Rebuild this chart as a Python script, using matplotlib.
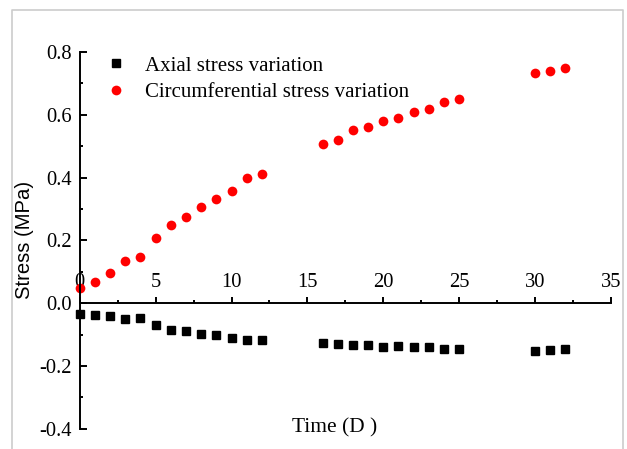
import matplotlib
matplotlib.use('Agg')
import matplotlib.pyplot as plt
from matplotlib.ticker import MultipleLocator, FormatStrFormatter
from matplotlib.lines import Line2D

# Time in days
days_a = [0, 1, 2, 3, 4, 5, 6, 7, 8, 9, 10, 11, 12,
          16, 17, 18, 19, 20, 21, 22, 23, 24, 25, 30, 31, 32]
days_c = days_a

# Axial stress variation (MPa)
axial = [-0.035, -0.036, -0.041, -0.051, -0.047, -0.070, -0.084, -0.088, -0.097,
         -0.102, -0.112, -0.117, -0.118,
         -0.127, -0.129, -0.134, -0.134, -0.138, -0.136, -0.138, -0.139, -0.145, -0.145,
         -0.151, -0.148, -0.146]

# Circumferential stress variation (MPa)
circ = [0.050, 0.068, 0.097, 0.134, 0.146, 0.209, 0.249, 0.274, 0.306, 0.333,
        0.358, 0.399, 0.410,
        0.508, 0.521, 0.550, 0.560, 0.579, 0.590, 0.608, 0.617, 0.641, 0.649,
        0.734, 0.741, 0.748]

serif = 'Liberation Serif'
sans = 'Liberation Sans'

W, H = 627, 449
fig = plt.figure(figsize=(W / 100, H / 100), dpi=100)
fig.patch.set_facecolor('white')

# light grey frame round the picture
frame = Line2D([12 / W, 12 / W, 623 / W, 623 / W], [0, 1 - 10 / H, 1 - 10 / H, 0],
               transform=fig.transFigure, color='#cccccc', lw=1.2)
fig.add_artist(frame)

ax = fig.add_axes([79.7 / W, 1 - 428.8 / H, (611 - 79.7) / W, (428.8 - 52) / H])

ax.plot(days_a, axial, 's', color='black', markersize=5.6, clip_on=False,
        label='Axial stress variation')
ax.plot(days_c, circ, 'o', color='red', markersize=7, clip_on=False,
        markeredgewidth=0, label='Circumferential stress variation')

ax.set_xlim(0, 35)
ax.set_ylim(-0.4, 0.8)

# x axis drawn at y = 0 with labels above it
ax.spines['bottom'].set_visible(False)
ax.spines['right'].set_visible(False)
ax.spines['top'].set_position(('data', 0))
ax.spines['top'].set_linewidth(1.4)
ax.spines['left'].set_linewidth(1.4)
ax.xaxis.set_ticks_position('top')

ax.xaxis.set_major_locator(MultipleLocator(5))
ax.xaxis.set_minor_locator(MultipleLocator(2.5))
ax.yaxis.set_major_locator(MultipleLocator(0.2))
ax.yaxis.set_minor_locator(MultipleLocator(0.1))
ax.yaxis.set_major_formatter(FormatStrFormatter('%.1f'))

ax.tick_params(axis='x', which='major', direction='out', length=4.3, width=1.4, pad=4)
ax.tick_params(axis='x', which='minor', direction='out', length=2.2, width=1.4)
ax.tick_params(axis='y', which='major', direction='in', length=5, width=1.4, pad=5.5)
ax.tick_params(axis='y', which='minor', direction='in', length=2.4, width=1.4)

for lab in ax.get_xticklabels() + ax.get_yticklabels():
    lab.set_fontfamily(serif)
    lab.set_fontsize(14.8)

# axis titles
fig.text(24 / W, 1 - 240 / H, 'Stress (MPa)', rotation=90, ha='center', va='center',
         family=sans, fontsize=14.6)
fig.text(335 / W, 1 - 428 / H, 'Time (D )', ha='center', va='center',
         family=serif, fontsize=15.4)

ax.legend(loc='upper left', bbox_to_anchor=(105.3 / W, 1 - 56 / H),
          bbox_transform=fig.transFigure, frameon=False, borderpad=0,
          handlelength=1.0, handletextpad=0.92, labelspacing=0.32,
          prop={'family': serif, 'size': 15}, borderaxespad=0)

fig.savefig('out.png', dpi=100)
